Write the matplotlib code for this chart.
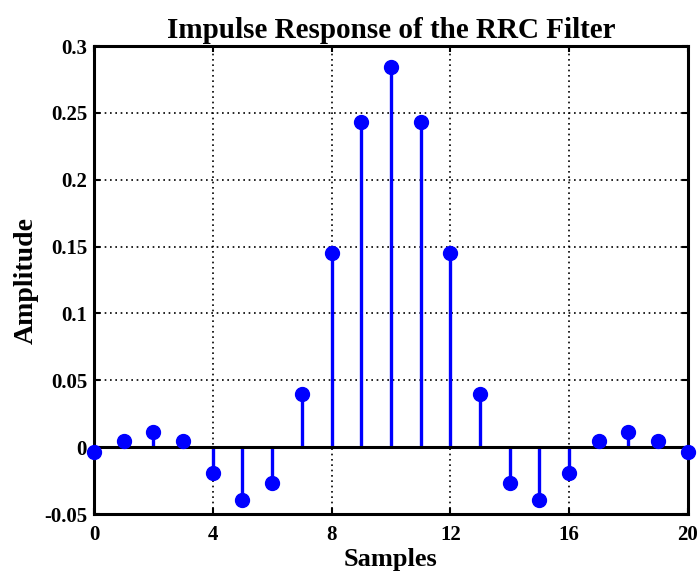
import numpy as np
import matplotlib.pyplot as plt

plt.rcParams["font.family"] = ["Liberation Serif", "DejaVu Serif"]
plt.rcParams["font.weight"] = "bold"

samples = np.arange(21)
half = [-0.0035, 0.0043, 0.011, 0.0043, -0.019, -0.0394, -0.027, 0.0396, 0.1455, 0.2435]
peak = 0.2845
amplitude = np.array(half + [peak] + half[::-1])

xticks = [0, 4, 8, 12, 16, 20]
yticks = [-0.05, 0, 0.05, 0.1, 0.15, 0.2, 0.25, 0.3]
ytick_labels = ["-0.05", "0", "0.05", "0.1", "0.15", "0.2", "0.25", "0.3"]

fig = plt.figure(figsize=(6.99, 5.75), dpi=100)
ax = fig.add_axes([0.1345, 0.106, 0.8495, 0.814])

markerline, stemlines, baseline = ax.stem(samples, amplitude, basefmt="k-")
plt.setp(stemlines, color="blue", linewidth=2.4)
plt.setp(markerline, color="blue", markersize=10, clip_on=False, zorder=5)
plt.setp(baseline, color="black", linewidth=2.2)
stemlines.set_clip_on(False)

ax.set_xlim(0, 20)
ax.set_ylim(-0.05, 0.3)
ax.set_xticks(xticks)
ax.set_yticks(yticks)
ax.set_yticklabels(ytick_labels)
ax.grid(True, color="black", linestyle=(0, (1, 2.2)), linewidth=1.2)
ax.set_axisbelow(True)
ax.tick_params(direction="in", length=4, width=1.5, labelsize=15, top=True, right=True)
ax.tick_params(axis="x", pad=8)
ax.tick_params(axis="y", pad=5)
for s in ax.spines.values():
    s.set_linewidth(2.2)

ax.set_title("Impulse Response of the RRC Filter", fontsize=21, fontweight="bold", pad=6)
ax.set_xlabel("Samples", fontsize=19, fontweight="bold", labelpad=2)
ax.set_ylabel("Amplitude", fontsize=20, fontweight="bold", labelpad=4)

fig.savefig("out.png", dpi=100)
